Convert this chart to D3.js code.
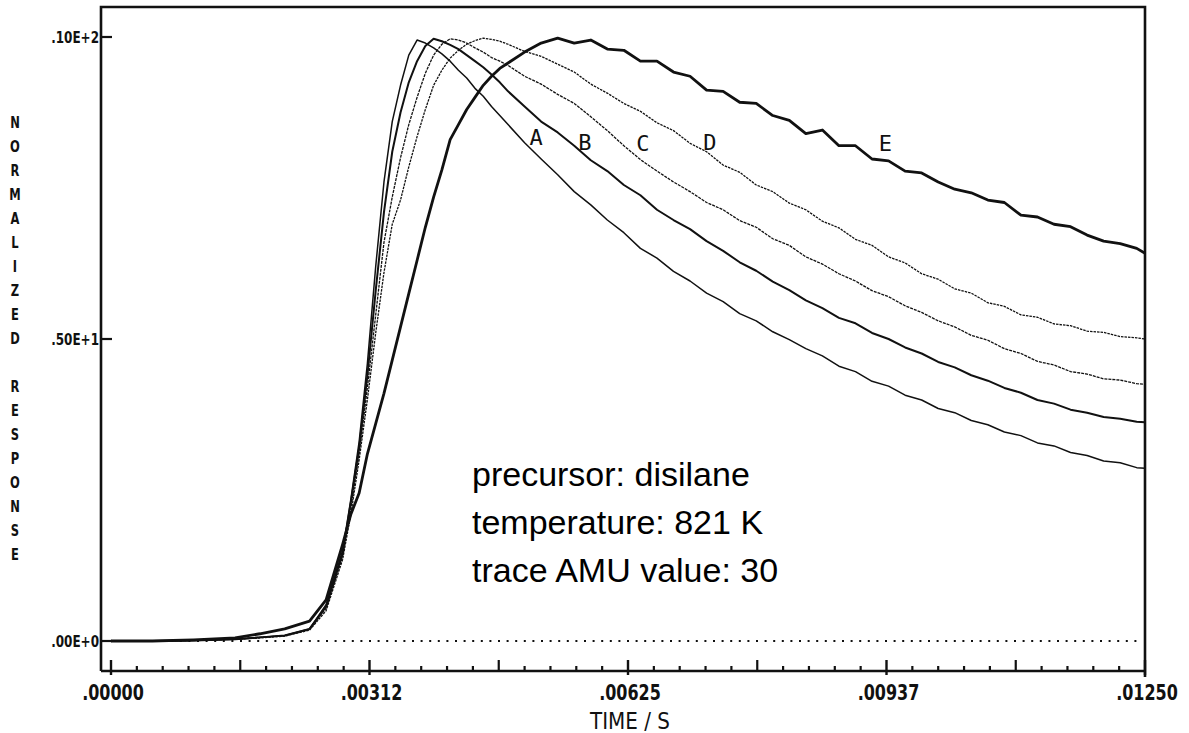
<!DOCTYPE html>
<html><head><meta charset="utf-8">
<script src="https://cdn.jsdelivr.net/npm/d3@7"></script>
<style>body{margin:0;background:#fff}svg{display:block;background:#fff}</style>
</head><body><svg id="c" width="1189" height="733"></svg>
<script>
// ---- data ----
const times = [0, 0.0005, 0.0010, 0.0015, 0.0018, 0.0021, 0.0024, 0.0026,
  0.0028, 0.0029, 0.0030, 0.0031, 0.0032, 0.0033, 0.0034, 0.0035, 0.0036, 0.0037, 0.0038, 0.0039,
  0.0040, 0.0041, 0.0042, 0.0043, 0.0044, 0.0045, 0.0046, 0.0047, 0.0048,
  0.0050, 0.0052, 0.0054, 0.0056, 0.0058, 0.0060, 0.0062, 0.0064, 0.0066, 0.0068,
  0.0070, 0.0072, 0.0074, 0.0076, 0.0078, 0.0080, 0.0082, 0.0084, 0.0086, 0.0088,
  0.0090, 0.0092, 0.0094, 0.0096, 0.0098, 0.0100, 0.0102, 0.0104, 0.0106, 0.0108,
  0.0110, 0.0112, 0.0114, 0.0116, 0.0118, 0.0120, 0.0122, 0.0124, 0.0125];
const seriesA = [0, 0, 0.01, 0.03, 0.06, 0.09, 0.2, 0.6,
  1.5, 2.35, 3.3, 4.6, 6.2, 7.6, 8.6, 9.2, 9.7, 9.95, 9.9, 9.82,
  9.72, 9.6, 9.45, 9.32, 9.15, 9.02, 8.85, 8.7, 8.55,
  8.25, 7.98, 7.72, 7.44, 7.22, 6.97, 6.76, 6.5, 6.34, 6.12,
  5.96, 5.76, 5.62, 5.42, 5.3, 5.12, 4.99, 4.84, 4.72, 4.55,
  4.46, 4.3, 4.22, 4.07, 3.99, 3.85, 3.78, 3.65, 3.58, 3.46,
  3.4, 3.28, 3.23, 3.12, 3.07, 2.98, 2.95, 2.87, 2.86];
const seriesB = [0, 0, 0.01, 0.03, 0.06, 0.09, 0.2, 0.57,
  1.45, 2.3, 3.2, 4.4, 5.8, 7.1, 8.1, 8.75, 9.25, 9.6, 9.85, 9.97,
  9.93, 9.87, 9.8, 9.7, 9.6, 9.5, 9.38, 9.25, 9.1,
  8.85, 8.6, 8.42, 8.2, 7.96, 7.78, 7.55, 7.38, 7.14, 6.97,
  6.82, 6.62, 6.46, 6.27, 6.13, 5.95, 5.81, 5.64, 5.51, 5.35,
  5.26, 5.1, 5.0, 4.86, 4.76, 4.62, 4.53, 4.4, 4.31, 4.19,
  4.11, 3.99, 3.93, 3.83, 3.78, 3.71, 3.68, 3.63, 3.62];
const seriesC = [0, 0, 0.01, 0.03, 0.06, 0.09, 0.19, 0.54,
  1.4, 2.2, 3.1, 4.2, 5.4, 6.6, 7.35, 8.0, 8.55, 9.0, 9.4, 9.7,
  9.88, 9.97, 9.95, 9.9, 9.82, 9.75, 9.66, 9.6, 9.53,
  9.35, 9.22, 9.05, 8.9, 8.68, 8.45, 8.2, 7.97, 7.78, 7.6,
  7.44, 7.26, 7.14, 6.96, 6.85, 6.66, 6.55, 6.36, 6.24, 6.08,
  5.96, 5.8, 5.7, 5.55, 5.44, 5.3, 5.2, 5.06, 4.98, 4.84,
  4.76, 4.63, 4.57, 4.46, 4.42, 4.34, 4.32, 4.26, 4.25];
const seriesD = [0, 0, 0.01, 0.03, 0.05, 0.08, 0.18, 0.5,
  1.35, 2.1, 3.0, 4.0, 5.1, 6.1, 6.9, 7.3, 7.85, 8.35, 8.8, 9.2,
  9.45, 9.65, 9.78, 9.88, 9.94, 9.98, 9.96, 9.93, 9.88,
  9.76, 9.68, 9.55, 9.42, 9.22, 9.07, 8.9, 8.77, 8.58, 8.45,
  8.24, 8.1, 7.88, 7.76, 7.55, 7.44, 7.25, 7.14, 6.95, 6.84,
  6.65, 6.55, 6.36, 6.26, 6.08, 5.99, 5.83, 5.76, 5.6, 5.54,
  5.4, 5.36, 5.25, 5.22, 5.13, 5.11, 5.04, 5.02, 5.0];
const seriesE = [0, 0, 0.02, 0.05, 0.12, 0.2, 0.33, 0.68,
  1.6, 2.1, 2.45, 3.1, 3.6, 4.1, 4.65, 5.2, 5.75, 6.3, 6.85, 7.35,
  7.8, 8.3, 8.55, 8.8, 9.0, 9.2, 9.35, 9.48, 9.57,
  9.75, 9.9, 9.98, 9.9, 9.95, 9.8, 9.78, 9.6, 9.6, 9.42,
  9.35, 9.12, 9.1, 8.92, 8.9, 8.7, 8.62, 8.4, 8.46, 8.2,
  8.2, 7.98, 7.95, 7.78, 7.75, 7.6, 7.48, 7.42, 7.3, 7.26,
  7.05, 7.02, 6.9, 6.86, 6.72, 6.62, 6.58, 6.5, 6.42];
const seriesNames = ["A", "B", "C", "D", "E"];
const labelTimes = [0.00514, 0.00573, 0.00643, 0.00724, 0.00936];
const labelValues = [8.33, 8.25, 8.23, 8.26, 8.23];
const xTickValues = [0, 0.003125, 0.00625, 0.009375, 0.0125];
const xTickLabels = [".00000", ".00312", ".00625", ".00937", ".01250"];
const yTickValues = [0, 5, 10];
const yTickLabels = [".00E+0", ".50E+1", ".10E+2"];
const xTitle = "TIME / S";
const yTitle = "NORMALIZED RESPONSE";
const notes = ["precursor: disilane", "temperature: 821 K", "trace AMU value: 30"];

// ---- drawing ----
const svg = d3.select("#c");
const x = d3.scaleLinear().domain([0, 0.0125]).range([111, 1145]);
const y = d3.scaleLinear().domain([0, 10]).range([641, 37]);
const frame = {left: 101, top: 7, right: 1145, bottom: 671};
const ink = "#111";
const plotFont = "'DejaVu Sans', 'Liberation Sans', sans-serif";

// zero reference (dotted)
svg.append("line")
  .attr("x1", x(0)).attr("x2", x(0.01245))
  .attr("y1", y(0)).attr("y2", y(0))
  .attr("stroke", ink).attr("stroke-width", 2)
  .attr("stroke-dasharray", "2 6.6");

// frame
svg.append("path")
  .attr("d", `M${frame.left},${frame.bottom}V${frame.top}H${frame.right}V${frame.bottom + 6}M${frame.left},${frame.bottom}H${frame.right}`)
  .attr("fill", "none").attr("stroke", ink).attr("stroke-width", 2.6);

// x ticks
const step = 0.0125 / 40;
const xMinor = d3.range(41).map(i => i * step);
const tg = svg.append("g").attr("stroke", ink);
xMinor.forEach((v, i) => {
  let top, bot, w;
  if (i % 10 === 0) { top = frame.bottom - 11; bot = frame.bottom + 4; w = 2.4; }
  else if (i % 5 === 0) { top = frame.bottom - 11; bot = frame.bottom; w = 2.2; }
  else { top = frame.bottom - 5; bot = frame.bottom; w = 2.2; }
  tg.append("line").attr("x1", x(v)).attr("x2", x(v)).attr("y1", top).attr("y2", bot).attr("stroke-width", w);
});
// y ticks
yTickValues.forEach(v => {
  tg.append("line").attr("x1", frame.left).attr("x2", frame.left + 11)
    .attr("y1", y(v)).attr("y2", y(v)).attr("stroke-width", 2.2);
});

// x tick labels (tall, narrow plotter style)
svg.append("g").selectAll("text").data(xTickValues).join("text")
  .attr("transform", d => `translate(${x(d) + 2},700) scale(1,1.35)`)
  .attr("text-anchor", "middle")
  .attr("font-family", plotFont).attr("font-weight", "bold").attr("font-size", 16)
  .attr("fill", ink)
  .text((d, i) => xTickLabels[i]);
// y tick labels
svg.append("g").selectAll("text").data(yTickValues).join("text")
  .attr("transform", d => `translate(${frame.left - 2},${y(d) + 6}) scale(1,1.3)`)
  .attr("text-anchor", "end")
  .attr("font-family", plotFont).attr("font-weight", "bold").attr("font-size", 12)
  .attr("fill", ink)
  .text((d, i) => yTickLabels[i]);
// x title
svg.append("text").attr("transform", "translate(630,729) scale(1.05,1.25)")
  .attr("text-anchor", "middle")
  .attr("font-family", plotFont).attr("font-size", 19)
  .attr("fill", ink).text(xTitle);
// y title: stacked letters
svg.append("g").selectAll("text").data(yTitle.split("").map((ch, i) => ({ch, i})).filter(d => d.ch !== " "))
  .join("text")
  .attr("transform", d => `translate(15,${128 + 24 * d.i}) scale(0.72,1)`)
  .attr("text-anchor", "middle")
  .attr("font-family", plotFont).attr("font-weight", "bold").attr("font-size", 16)
  .attr("fill", ink).text(d => d.ch);

// curves
const allSeries = [seriesA, seriesB, seriesC, seriesD, seriesE];
const widths = [1.5, 2.0, 1.3, 1.3, 2.8];
const dashes = [null, null, "3 1", "2.5 1", null];
const line = d3.line().x(d => x(d[0])).y(d => y(d[1]));
allSeries.forEach((vals, k) => {
  svg.append("path")
    .datum(times.map((t, i) => [t, vals[i]]))
    .attr("d", line)
    .attr("fill", "none").attr("stroke", ink)
    .attr("stroke-width", widths[k])
    .attr("stroke-linejoin", "round")
    .attr("stroke-dasharray", dashes[k]);
});

// curve labels
svg.append("g").selectAll("text").data(seriesNames).join("text")
  .attr("x", (d, i) => x(labelTimes[i])).attr("y", (d, i) => y(labelValues[i]))
  .attr("text-anchor", "middle").attr("dominant-baseline", "central")
  .attr("font-family", "'DejaVu Sans Mono', monospace").attr("font-size", 22)
  .attr("fill", ink).text(d => d);

// notes
svg.append("g").selectAll("text").data(notes).join("text")
  .attr("x", 472).attr("y", (d, i) => 486 + 48 * i)
  .attr("font-family", "'Liberation Sans', Arial, sans-serif").attr("font-size", 34)
  .attr("fill", "#000").text(d => d);
</script>
</body></html>
